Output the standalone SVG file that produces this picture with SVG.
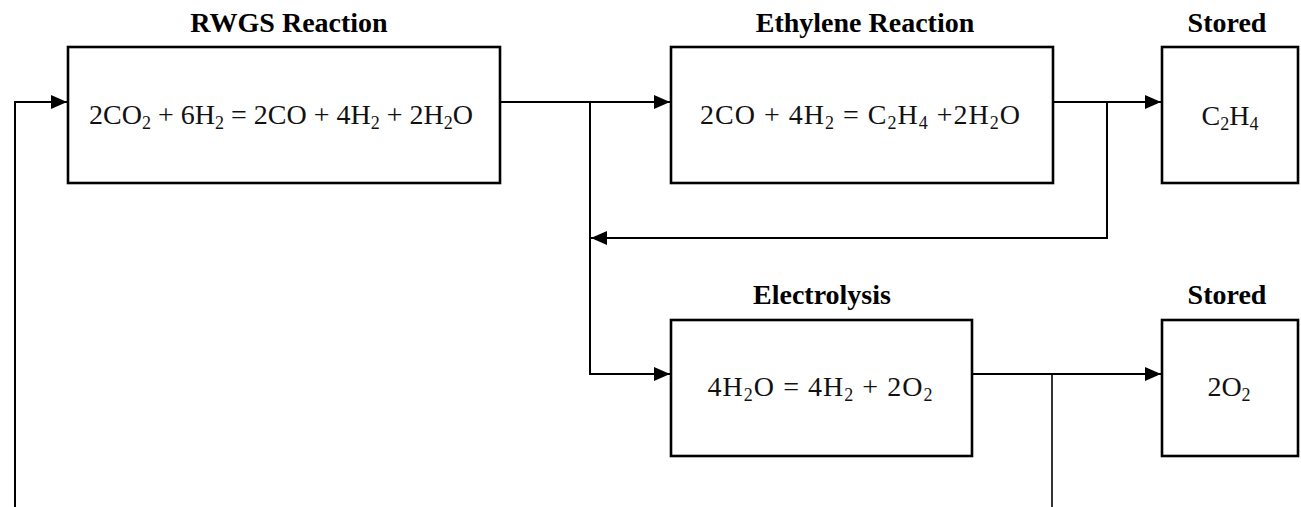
<svg xmlns="http://www.w3.org/2000/svg" width="1301" height="507" viewBox="0 0 1301 507">
<style>
.box{fill:#fff;stroke:#000;stroke-width:2.6}
.title{font-family:"Liberation Serif","Times New Roman",serif;font-weight:bold;font-size:28px;text-anchor:middle;fill:#000}
.eq{font-family:"Liberation Serif","Times New Roman",serif;font-size:28px;text-anchor:middle;fill:#111}
.sub{font-size:18px}
.conn{fill:none;stroke:#000;stroke-width:2}
</style>
<defs>
<marker id="ah" markerUnits="userSpaceOnUse" markerWidth="18" markerHeight="16" refX="17" refY="8" orient="auto">
<path d="M1,1 L17,8 L1,15 Z" fill="#000"/>
</marker>
</defs>
<rect width="1301" height="507" fill="#fff"/>
<g id="connectors">
<path class="conn" d="M15,507 V102 H67" marker-end="url(#ah)"/>
<path class="conn" d="M500,102 H670" marker-end="url(#ah)"/>
<path class="conn" d="M590,102 V374 H670" marker-end="url(#ah)"/>
<path class="conn" d="M1053,102 H1161" marker-end="url(#ah)"/>
<path class="conn" d="M1107,102 V238 H591" marker-end="url(#ah)"/>
<path class="conn" d="M972,374 H1161" marker-end="url(#ah)"/>
<path class="conn" d="M1052,374 V507" style="stroke-width:1.6"/>
</g>
<g id="rwgs">
<text class="title" x="289" y="32">RWGS Reaction</text>
<rect class="box" x="68" y="47" width="432" height="136"/>
<text class="eq" x="281" y="124" textLength="384">2CO<tspan class="sub" dy="5">2</tspan><tspan dy="-5"> + 6H</tspan><tspan class="sub" dy="5">2</tspan><tspan dy="-5"> = 2CO + 4H</tspan><tspan class="sub" dy="5">2</tspan><tspan dy="-5"> + 2H</tspan><tspan class="sub" dy="5">2</tspan><tspan dy="-5">O</tspan></text>
</g>
<g id="ethylene">
<text class="title" x="865" y="32">Ethylene Reaction</text>
<rect class="box" x="671" y="47" width="382" height="136"/>
<text class="eq" x="860" y="124" textLength="320">2CO + 4H<tspan class="sub" dy="5">2</tspan><tspan dy="-5"> = C</tspan><tspan class="sub" dy="5">2</tspan><tspan dy="-5">H</tspan><tspan class="sub" dy="5">4</tspan><tspan dy="-5"> +2H</tspan><tspan class="sub" dy="5">2</tspan><tspan dy="-5">O</tspan></text>
</g>
<g id="stored-c2h4">
<text class="title" x="1227" y="32">Stored</text>
<rect class="box" x="1162" y="47" width="136" height="136"/>
<text class="eq" x="1230" y="125">C<tspan class="sub" dy="5">2</tspan><tspan dy="-5">H</tspan><tspan class="sub" dy="5">4</tspan></text>
</g>
<g id="electrolysis">
<text class="title" x="822" y="304">Electrolysis</text>
<rect class="box" x="671" y="320" width="301" height="136"/>
<text class="eq" x="820" y="396" textLength="225">4H<tspan class="sub" dy="5">2</tspan><tspan dy="-5">O = 4H</tspan><tspan class="sub" dy="5">2</tspan><tspan dy="-5"> + 2O</tspan><tspan class="sub" dy="5">2</tspan></text>
</g>
<g id="stored-o2">
<text class="title" x="1227" y="304">Stored</text>
<rect class="box" x="1162" y="320" width="136" height="136"/>
<text class="eq" x="1229" y="396">2O<tspan class="sub" dy="5">2</tspan></text>
</g>
</svg>
